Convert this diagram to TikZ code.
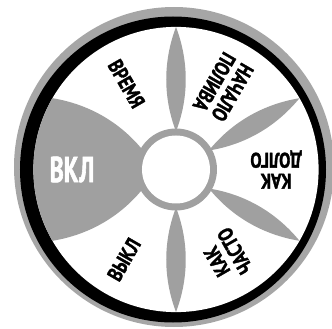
\documentclass[tikz,border=0pt]{standalone}
\usepackage{fontspec}
\newfontfamily\lblfont{PT Sans}[FakeStretch=0.8, FakeBold=1.6]
\newfontfamily\onfont{PT Sans}[FakeStretch=0.66, FakeBold=1.6]
\definecolor{petalgray}{RGB}{160,160,160}
\definecolor{rimgray}{RGB}{166,166,166}
\tikzset{
  lbl/.style={font={\lblfont\bfseries\fontsize{21}{21}\selectfont}, align=center, inner sep=0pt, text=black},
  onlbl/.style={font={\onfont\bfseries\fontsize{36}{37}\selectfont}, inner sep=0pt, text=white},
  petal/.style={fill=petalgray}
}
\begin{document}
\begin{tikzpicture}[x=1pt,y=1pt]
\useasboundingbox (-176,-159.5) rectangle (156,169.5);
% rim
\fill[rimgray] (-2,2.5) circle (160);
\fill[black] (-3,0) circle (153);
\fill[white] (0,0) circle (142.6);
% ON sector
\begin{scope}
\clip (0,0) circle (142.6);
\fill[petalgray] (0,0) -- (150:150) arc[start angle=150, end angle=210, radius=150] -- cycle;
\end{scope}
% petals
\foreach \a in {90,30,-30,-90,150,210}{
  \fill[petal, rotate=\a] (38,0) .. controls (72,13) and (108,13) .. (142.6,0)
     .. controls (108,-13) and (72,-13) .. (38,0) -- cycle;
}
% hub
\fill[petalgray] (0,0) circle (41);
\fill[white] (0,0) circle (34);
% labels
\node[onlbl] (on) at (180:104) {ВКЛ};
\node[lbl, rotate=180] (howlong) at (0:100) {КАК\\ДОЛГО};
\node[lbl, rotate=240] (start) at (60:95) {НАЧАЛО\\ПОЛИВА};
\node[lbl, rotate=300] (time) at (120:99) {ВРЕМЯ};
\node[lbl, rotate=60] (off) at (240:104) {ВЫКЛ};
\node[lbl, rotate=120] (howoften) at (300:100) {КАК\\ЧАСТО};
\end{tikzpicture}
\end{document}
